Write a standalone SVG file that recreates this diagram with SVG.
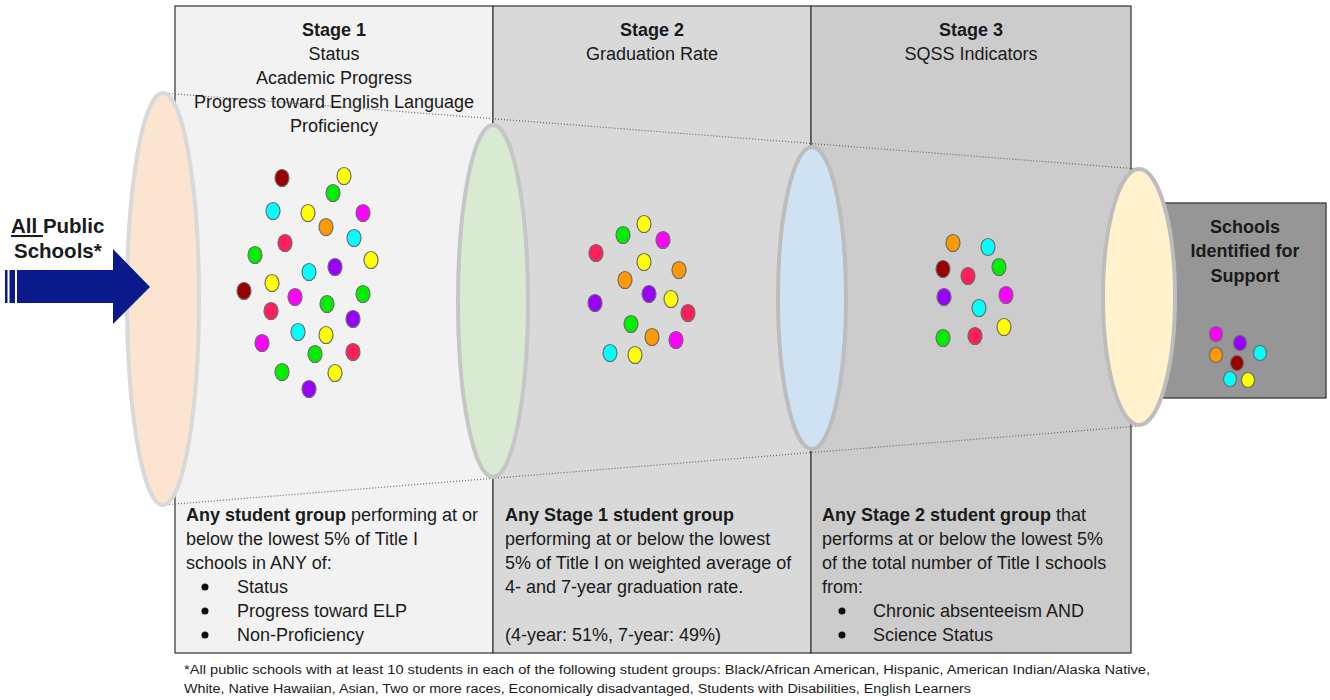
<svg xmlns="http://www.w3.org/2000/svg" width="1330" height="700" viewBox="0 0 1330 700">
<style>
.panel{stroke:#404040;stroke-width:1.3}
.t{font-family:"Liberation Sans",Arial,sans-serif;font-size:18px;fill:#1a1a1a}
.h{text-anchor:middle}
.b{font-weight:bold}
.dot{stroke:#6b6b6b;stroke-width:1.2}
.tube{stroke-width:4}
.dl{stroke:#666;stroke-width:1.2;stroke-dasharray:1 2;fill:none}
.fn{font-family:"Liberation Sans",Arial,sans-serif;font-size:12.5px;fill:#1a1a1a}
.g{fill:#00ee00}.y{fill:#ffff00}.c{fill:#00ffff}.m{fill:#ff00ff}.o{fill:#ff9900}.p{fill:#9900ff}.r{fill:#ff1f5a}.d{fill:#990000}
</style>
<rect width="1330" height="700" fill="#ffffff"/>
<g id="stage1-panel"><rect class="panel" x="175" y="6" width="318" height="647" fill="#f2f2f2"/></g>
<g id="stage2-panel"><rect class="panel" x="493" y="6" width="318" height="647" fill="#d9d9d9"/></g>
<g id="stage3-panel"><rect class="panel" x="811" y="6" width="320" height="647" fill="#cccccc"/></g>
<g id="connectors">
<line class="dl" x1="163" y1="93" x2="1139" y2="169"/>
<line class="dl" x1="163" y1="505" x2="1139" y2="426"/>
</g>
<g id="identified-box">
<rect x="1160" y="203" width="166" height="195" fill="#969696" stroke="#3a3a3a" stroke-width="1.3"/>
<text class="t h b" x="1245" y="233">Schools</text>
<text class="t h b" x="1245" y="257">Identified for</text>
<text class="t h b" x="1245" y="282">Support</text>
</g>
<g id="ellipse1"><ellipse class="tube" cx="163" cy="299" rx="36" ry="206" fill="#fbe5d0" stroke="#d9d9d9"/></g>
<g id="ellipse2"><ellipse class="tube" cx="493" cy="301" rx="35" ry="176" fill="#d9ead3" stroke="#c6c6c6"/></g>
<g id="ellipse3"><ellipse class="tube" cx="812" cy="298" rx="34" ry="151" fill="#cfe2f3" stroke="#bdbdbd"/></g>
<g id="ellipse4"><ellipse class="tube" cx="1139" cy="297" rx="36" ry="128" fill="#fff2cc" stroke="#bdbdbd"/></g>
<g id="arrow">
<rect x="5" y="270" width="2.5" height="33" fill="#0a1a8a"/>
<rect x="9.5" y="270" width="5.5" height="33" fill="#0a1a8a"/>
<rect x="17" y="270" width="97" height="33" fill="#0a1a8a"/>
<polygon points="113,249 150,287 113,324" fill="#0a1a8a"/>
<text x="11" y="233" style="font-family:'Liberation Sans',Arial,sans-serif;font-size:20.5px;font-weight:bold;fill:#1a1a1a"><tspan text-decoration="underline">All </tspan>Public</text>
<text x="14" y="258" style="font-family:'Liberation Sans',Arial,sans-serif;font-size:20.5px;font-weight:bold;fill:#1a1a1a">Schools*</text>
</g>
<g id="stage1-header">
<text class="t h b" x="334" y="36">Stage 1</text>
<text class="t h" x="334" y="60">Status</text>
<text class="t h" x="334" y="84">Academic Progress</text>
<text class="t h" x="334" y="108">Progress toward English Language</text>
<text class="t h" x="334" y="132">Proficiency</text>
</g>
<g id="stage2-header">
<text class="t h b" x="652" y="36">Stage 2</text>
<text class="t h" x="652" y="60">Graduation Rate</text>
</g>
<g id="stage3-header">
<text class="t h b" x="971" y="36">Stage 3</text>
<text class="t h" x="971" y="60">SQSS Indicators</text>
</g>
<g id="stage1-dots">
<ellipse class="dot d" cx="282" cy="178" rx="7" ry="8.5"/>
<ellipse class="dot y" cx="344" cy="176" rx="7" ry="8.5"/>
<ellipse class="dot g" cx="333" cy="193" rx="7" ry="8.5"/>
<ellipse class="dot c" cx="273" cy="211" rx="7" ry="8.5"/>
<ellipse class="dot y" cx="308" cy="213" rx="7" ry="8.5"/>
<ellipse class="dot m" cx="363" cy="213" rx="7" ry="8.5"/>
<ellipse class="dot o" cx="326" cy="227" rx="7" ry="8.5"/>
<ellipse class="dot c" cx="354" cy="238" rx="7" ry="8.5"/>
<ellipse class="dot r" cx="285" cy="243" rx="7" ry="8.5"/>
<ellipse class="dot g" cx="255" cy="255" rx="7" ry="8.5"/>
<ellipse class="dot y" cx="371" cy="260" rx="7" ry="8.5"/>
<ellipse class="dot c" cx="309" cy="272" rx="7" ry="8.5"/>
<ellipse class="dot p" cx="335" cy="267" rx="7" ry="8.5"/>
<ellipse class="dot y" cx="272" cy="283" rx="7" ry="8.5"/>
<ellipse class="dot d" cx="244" cy="291" rx="7" ry="8.5"/>
<ellipse class="dot m" cx="295" cy="297" rx="7" ry="8.5"/>
<ellipse class="dot g" cx="363" cy="294" rx="7" ry="8.5"/>
<ellipse class="dot r" cx="271" cy="311" rx="7" ry="8.5"/>
<ellipse class="dot g" cx="327" cy="304" rx="7" ry="8.5"/>
<ellipse class="dot p" cx="353" cy="319" rx="7" ry="8.5"/>
<ellipse class="dot c" cx="298" cy="332" rx="7" ry="8.5"/>
<ellipse class="dot y" cx="326" cy="335" rx="7" ry="8.5"/>
<ellipse class="dot m" cx="262" cy="343" rx="7" ry="8.5"/>
<ellipse class="dot g" cx="315" cy="354" rx="7" ry="8.5"/>
<ellipse class="dot r" cx="353" cy="352" rx="7" ry="8.5"/>
<ellipse class="dot g" cx="282" cy="372" rx="7" ry="8.5"/>
<ellipse class="dot y" cx="335" cy="373" rx="7" ry="8.5"/>
<ellipse class="dot p" cx="309" cy="389" rx="7" ry="8.5"/>
</g>
<g id="stage2-dots">
<ellipse class="dot y" cx="644" cy="224" rx="7" ry="8.5"/>
<ellipse class="dot g" cx="623" cy="235" rx="7" ry="8.5"/>
<ellipse class="dot m" cx="663" cy="240" rx="7" ry="8.5"/>
<ellipse class="dot r" cx="596" cy="253" rx="7" ry="8.5"/>
<ellipse class="dot y" cx="644" cy="262" rx="7" ry="8.5"/>
<ellipse class="dot o" cx="679" cy="270" rx="7" ry="8.5"/>
<ellipse class="dot o" cx="625" cy="280" rx="7" ry="8.5"/>
<ellipse class="dot p" cx="649" cy="294" rx="7" ry="8.5"/>
<ellipse class="dot y" cx="671" cy="299" rx="7" ry="8.5"/>
<ellipse class="dot p" cx="595" cy="303" rx="7" ry="8.5"/>
<ellipse class="dot r" cx="688" cy="313" rx="7" ry="8.5"/>
<ellipse class="dot g" cx="631" cy="324" rx="7" ry="8.5"/>
<ellipse class="dot o" cx="652" cy="337" rx="7" ry="8.5"/>
<ellipse class="dot m" cx="676" cy="340" rx="7" ry="8.5"/>
<ellipse class="dot c" cx="610" cy="353" rx="7" ry="8.5"/>
<ellipse class="dot y" cx="635" cy="355" rx="7" ry="8.5"/>
</g>
<g id="stage3-dots">
<ellipse class="dot o" cx="953" cy="243" rx="7" ry="8.5"/>
<ellipse class="dot c" cx="988" cy="247" rx="7" ry="8.5"/>
<ellipse class="dot d" cx="943" cy="269" rx="7" ry="8.5"/>
<ellipse class="dot r" cx="968" cy="276" rx="7" ry="8.5"/>
<ellipse class="dot g" cx="999" cy="267" rx="7" ry="8.5"/>
<ellipse class="dot p" cx="944" cy="297" rx="7" ry="8.5"/>
<ellipse class="dot m" cx="1006" cy="295" rx="7" ry="8.5"/>
<ellipse class="dot c" cx="979" cy="308" rx="7" ry="8.5"/>
<ellipse class="dot y" cx="1004" cy="327" rx="7" ry="8.5"/>
<ellipse class="dot g" cx="943" cy="338" rx="7" ry="8.5"/>
<ellipse class="dot r" cx="975" cy="336" rx="7" ry="8.5"/>
</g>
<g id="final-dots">
<ellipse class="dot m" cx="1216" cy="334" rx="6.5" ry="7.5"/>
<ellipse class="dot p" cx="1240" cy="343" rx="6.5" ry="7.5"/>
<ellipse class="dot o" cx="1216" cy="355" rx="6.5" ry="7.5"/>
<ellipse class="dot c" cx="1260" cy="353" rx="6.5" ry="7.5"/>
<ellipse class="dot d" cx="1237" cy="363" rx="6.5" ry="7.5"/>
<ellipse class="dot c" cx="1230" cy="379" rx="6.5" ry="7.5"/>
<ellipse class="dot y" cx="1248" cy="380" rx="6.5" ry="7.5"/>
</g>
<g id="stage1-criteria">
<text class="t" x="186" y="521"><tspan class="b">Any student group</tspan> performing at or</text>
<text class="t" x="186" y="545">below the lowest 5% of Title I</text>
<text class="t" x="186" y="569">schools in ANY of:</text>
<circle cx="205" cy="587" r="3.5" fill="#111"/>
<text class="t" x="237" y="593">Status</text>
<circle cx="205" cy="611" r="3.5" fill="#111"/>
<text class="t" x="237" y="617">Progress toward ELP</text>
<circle cx="205" cy="635" r="3.5" fill="#111"/>
<text class="t" x="237" y="641">Non-Proficiency</text>
</g>
<g id="stage2-criteria">
<text class="t b" x="505" y="521">Any Stage 1 student group</text>
<text class="t" x="505" y="545">performing at or below the lowest</text>
<text class="t" x="505" y="569">5% of Title I on weighted average of</text>
<text class="t" x="505" y="593">4- and 7-year graduation rate.</text>
<text class="t" x="505" y="641">(4-year: 51%, 7-year: 49%)</text>
</g>
<g id="stage3-criteria">
<text class="t" x="822" y="521"><tspan class="b">Any Stage 2 student group</tspan> that</text>
<text class="t" x="822" y="545">performs at or below the lowest 5%</text>
<text class="t" x="822" y="569">of the total number of Title I schools</text>
<text class="t" x="822" y="593">from:</text>
<circle cx="842" cy="611" r="3.5" fill="#111"/>
<text class="t" x="873" y="617">Chronic absenteeism AND</text>
<circle cx="842" cy="635" r="3.5" fill="#111"/>
<text class="t" x="873" y="641">Science Status</text>
</g>
<g id="footnote">
<text class="fn" x="184" y="674" textLength="966" lengthAdjust="spacingAndGlyphs">*All public schools with at least 10 students in each of the following student groups: Black/African American, Hispanic, American Indian/Alaska Native,</text>
<text class="fn" x="184" y="693" textLength="787" lengthAdjust="spacingAndGlyphs">White, Native Hawaiian, Asian, Two or more races, Economically disadvantaged, Students with Disabilities, English Learners</text>
</g>
</svg>
